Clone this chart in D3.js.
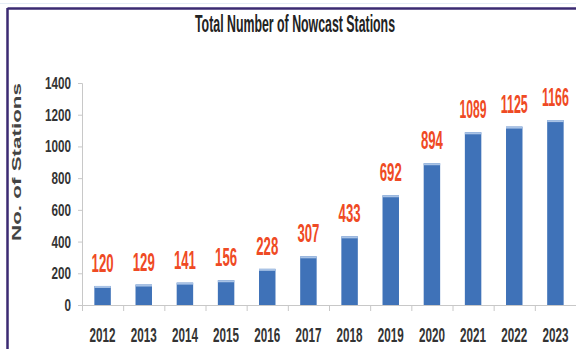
<!DOCTYPE html>
<html>
<head>
<meta charset="utf-8">
<script src="https://cdn.jsdelivr.net/npm/d3@7"></script>
<style>
  body { margin: 0; background: #fff; }
  svg { display: block; }
</style>
</head>
<body>
<div id="chart"></div>
<script>
// chart data
const years = ["2012", "2013", "2014", "2015", "2016", "2017", "2018", "2019", "2020", "2021", "2022", "2023"];
const stations = [120, 129, 141, 156, 228, 307, 433, 692, 894, 1089, 1125, 1166];
const yTicks = [0, 200, 400, 600, 800, 1000, 1200, 1400];

const width = 576, height = 349;
const plotLeft = 82, plotRight = 576, plotTop = 83, plotBottom = 305;
const narrow = "Liberation Sans Narrow, Arial Narrow, sans-serif";

const svg = d3.select("#chart").append("svg")
    .attr("width", width)
    .attr("height", height);

// outer frame
svg.append("line").attr("x1", 7.5).attr("x2", 576).attr("y1", 8.5).attr("y2", 8.5)
    .attr("stroke", "#3b2a72").attr("stroke-width", 2.5);
svg.append("line").attr("x1", 7.5).attr("x2", 7.5).attr("y1", 8).attr("y2", 349)
    .attr("stroke", "#3b2a72").attr("stroke-width", 2.5);
svg.append("line").attr("x1", 0).attr("x2", 576).attr("y1", 3.5).attr("y2", 3.5)
    .attr("stroke", "#e6eef6").attr("stroke-width", 1);

const x = d3.scaleBand()
    .domain(years)
    .range([plotLeft, plotRight])
    .paddingInner(0.6)
    .paddingOuter(0.3);

const y = d3.scaleLinear()
    .domain([0, 1400])
    .range([plotBottom, plotTop]);

// title
svg.append("text")
    .attr("x", 295).attr("y", 32)
    .attr("text-anchor", "middle")
    .attr("font-family", narrow)
    .attr("font-weight", "bold")
    .attr("font-size", 24)
    .attr("fill", "#222")
    .attr("textLength", 200)
    .attr("lengthAdjust", "spacingAndGlyphs")
    .text("Total Number of Nowcast Stations");

// y axis title
svg.append("text")
    .attr("transform", "translate(21,162) rotate(-90)")
    .attr("text-anchor", "middle")
    .attr("font-family", "Liberation Sans, Arial, sans-serif")
    .attr("font-weight", "bold")
    .attr("font-size", 12)
    .attr("fill", "#444")
    .attr("textLength", 158)
    .attr("lengthAdjust", "spacingAndGlyphs")
    .text("No. of Stations");

// y axis
const yAxis = svg.append("g")
    .attr("transform", `translate(${plotLeft},0)`)
    .call(d3.axisLeft(y).tickValues(yTicks).tickFormat(d3.format("d")).tickSize(4).tickPadding(7));
yAxis.select(".domain").attr("stroke", "#c8c8c8");
yAxis.selectAll(".tick line").attr("stroke", "#c8c8c8");
yAxis.selectAll(".tick text")
    .attr("font-family", narrow)
    .attr("font-weight", "bold")
    .attr("font-size", 17)
    .attr("fill", "#333")
    .attr("textLength", d => String(d).length * 6.5)
    .attr("lengthAdjust", "spacingAndGlyphs");

// bars
const bars = svg.append("g");
bars.selectAll("rect.bar")
    .data(stations)
    .join("rect")
    .attr("class", "bar")
    .attr("x", (d, i) => x(years[i]))
    .attr("y", d => y(d))
    .attr("width", x.bandwidth())
    .attr("height", d => plotBottom - y(d))
    .attr("fill", "#3f72b8");

// light cap on bar tops
bars.selectAll("rect.cap")
    .data(stations)
    .join("rect")
    .attr("class", "cap")
    .attr("x", (d, i) => x(years[i]))
    .attr("y", d => y(d))
    .attr("width", x.bandwidth())
    .attr("height", 2)
    .attr("fill", "#a9c3e6");

// x axis line and ticks
svg.append("line")
    .attr("x1", plotLeft).attr("x2", plotRight)
    .attr("y1", plotBottom + 0.5).attr("y2", plotBottom + 0.5)
    .attr("stroke", "#c8c8c8");
const step = x.step();
svg.append("g").selectAll("line")
    .data(years.concat(["end"]))
    .join("line")
    .attr("x1", (d, i) => plotLeft + i * step + 0.5)
    .attr("x2", (d, i) => plotLeft + i * step + 0.5)
    .attr("y1", plotBottom)
    .attr("y2", plotBottom + 6)
    .attr("stroke", "#c8c8c8");

// x labels
svg.append("g").selectAll("text")
    .data(years)
    .join("text")
    .attr("x", d => x(d) + x.bandwidth() / 2)
    .attr("y", 342)
    .attr("text-anchor", "middle")
    .attr("font-family", narrow)
    .attr("font-weight", "bold")
    .attr("font-size", 20)
    .attr("fill", "#333")
    .attr("textLength", 26)
    .attr("lengthAdjust", "spacingAndGlyphs")
    .text(d => d);

// value labels
svg.append("g").selectAll("text")
    .data(stations)
    .join("text")
    .attr("x", (d, i) => x(years[i]) + x.bandwidth() / 2)
    .attr("y", d => y(d) - 14)
    .attr("text-anchor", "middle")
    .attr("font-family", narrow)
    .attr("font-weight", "bold")
    .attr("font-size", 25)
    .attr("fill", "#ef4a24")
    .attr("textLength", d => String(d).length > 3 ? 27 : 22)
    .attr("lengthAdjust", "spacingAndGlyphs")
    .text(d => d);
</script>
</body>
</html>
